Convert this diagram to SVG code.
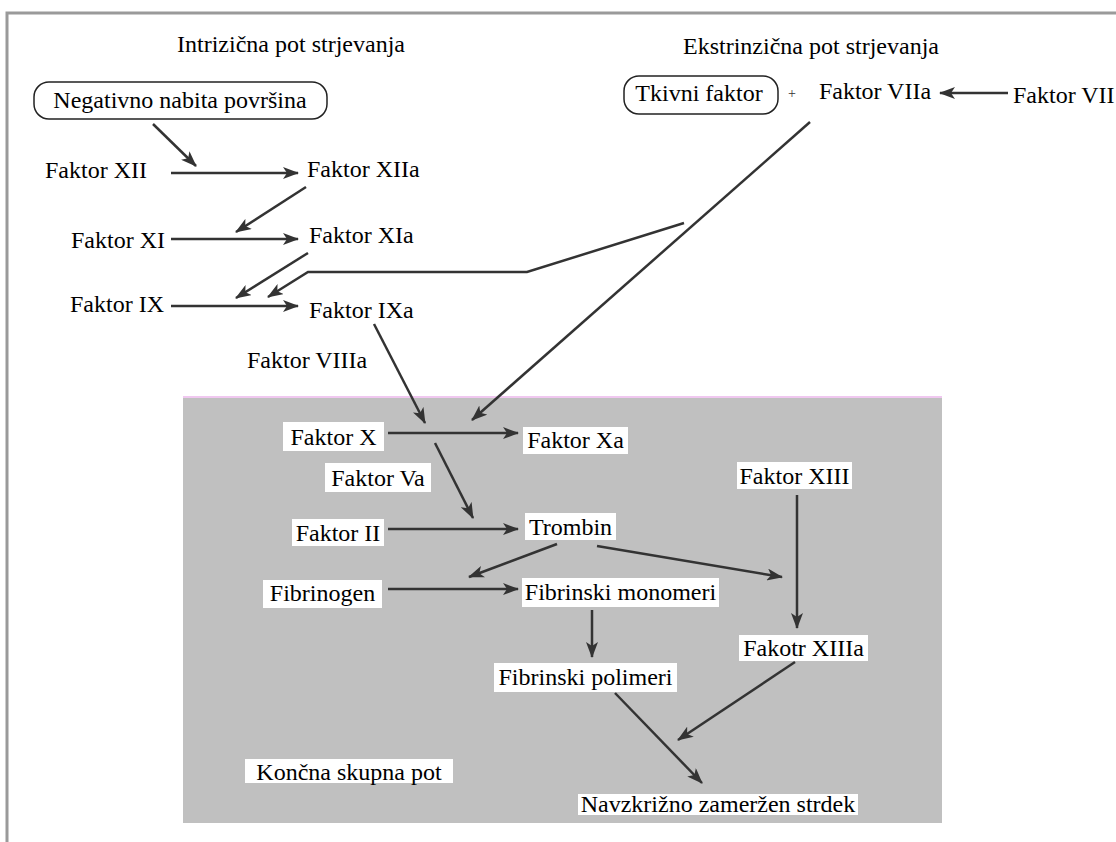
<svg xmlns="http://www.w3.org/2000/svg" width="1116" height="842" viewBox="0 0 1116 842" font-family="Liberation Serif, Times New Roman, Tinos, Noto Serif, DejaVu Serif, serif">
<style>
text{font-size:24px;fill:#000}
.c{text-anchor:middle}
.lb{fill:#fff}
.rb{fill:#fff;stroke:#222;stroke-width:1.5}
.ar{fill:none;stroke:#333;stroke-width:2.5;marker-end:url(#ah)}
</style>
<defs>
<marker id="ah" markerUnits="userSpaceOnUse" markerWidth="18" markerHeight="12" refX="15" refY="6" orient="auto">
<path d="M0,0 L16,6 L0,12 L4,6 z" fill="#333"/>
</marker>
</defs>
<rect x="0" y="0" width="1116" height="842" fill="#fff"/>
<path d="M7,842 L7,13 L1116,13" fill="none" stroke="#9a9a9a" stroke-width="3"/>
<g id="common-area">
<rect x="183" y="397" width="759" height="426" fill="#c0c0c0"/>
<line x1="183" y1="397" x2="942" y2="397" stroke="#f0c8f0" stroke-width="2"/>
</g>
<g id="title-intrinsic"><text class="c" x="291" y="52">Intrizična pot strjevanja</text></g>
<g id="title-extrinsic"><text class="c" x="811" y="54">Ekstrinzična pot strjevanja</text></g>
<g id="n-negativno"><rect class="rb" x="34" y="82" width="293" height="37" rx="15"/><text class="c" x="180" y="108">Negativno nabita površina</text></g>
<g id="n-tkivni"><rect class="rb" x="624" y="76" width="154" height="38" rx="15"/><text class="c" x="699" y="101">Tkivni faktor</text></g>
<g id="n-plus"><text class="c" x="792" y="98" font-size="14" style="font-size:14px;fill:#333">+</text></g>
<g id="n-VIIa"><text class="c" x="875" y="99">Faktor VIIa</text></g>
<g id="n-VII"><text x="1013" y="103">Faktor VII</text></g>
<g id="n-XII"><text x="45" y="178">Faktor XII</text></g>
<g id="n-XIIa"><text x="307" y="177">Faktor XIIa</text></g>
<g id="n-XI"><text x="71" y="248">Faktor XI</text></g>
<g id="n-XIa"><text x="309" y="243">Faktor XIa</text></g>
<g id="n-IX"><text x="70" y="312">Faktor IX</text></g>
<g id="n-IXa"><text x="309" y="318">Faktor IXa</text></g>
<g id="n-VIIIa"><text x="247" y="368">Faktor VIIIa</text></g>
<g id="n-X"><rect class="lb" x="283" y="422" width="101" height="29"/><text class="c" x="333.5" y="445">Faktor X</text></g>
<g id="n-Xa"><rect class="lb" x="523" y="427" width="105" height="27"/><text class="c" x="575.5" y="448">Faktor Xa</text></g>
<g id="n-Va"><rect class="lb" x="325" y="463" width="106" height="29"/><text class="c" x="378" y="486">Faktor Va</text></g>
<g id="n-II"><rect class="lb" x="292" y="519" width="92" height="27"/><text class="c" x="338" y="541">Faktor II</text></g>
<g id="n-trombin"><rect class="lb" x="525" y="513" width="91" height="27"/><text class="c" x="570.5" y="535">Trombin</text></g>
<g id="n-fibrinogen"><rect class="lb" x="263" y="580" width="119" height="28"/><text class="c" x="322.5" y="601">Fibrinogen</text></g>
<g id="n-monomeri"><rect class="lb" x="522" y="578" width="197" height="29"/><text class="c" x="620.5" y="600">Fibrinski monomeri</text></g>
<g id="n-XIII"><rect class="lb" x="737" y="462" width="115" height="27"/><text class="c" x="794.5" y="484">Faktor XIII</text></g>
<g id="n-polimeri"><rect class="lb" x="494" y="663" width="183" height="29"/><text class="c" x="585.5" y="685">Fibrinski polimeri</text></g>
<g id="n-XIIIa"><rect class="lb" x="739" y="635" width="129" height="26"/><text class="c" x="803.5" y="656">Fakotr XIIIa</text></g>
<g id="n-koncna"><rect class="lb" x="245" y="759" width="208" height="24"/><text class="c" x="349" y="780">Končna skupna pot</text></g>
<g id="n-strdek"><rect class="lb" x="578" y="794" width="280" height="21"/><text class="c" x="718" y="812">Navzkrižno zameržen strdek</text></g>
<g id="connectors">
<line class="ar" x1="153" y1="124" x2="196" y2="166"/>
<line class="ar" x1="171" y1="173" x2="298" y2="173"/>
<line class="ar" x1="306" y1="187" x2="236" y2="232"/>
<line class="ar" x1="171" y1="239" x2="298" y2="239"/>
<line class="ar" x1="308" y1="253" x2="236" y2="298"/>
<polyline class="ar" points="684,223 527,272 308,272 268,297"/>
<line class="ar" x1="171" y1="306" x2="298" y2="306"/>
<line class="ar" x1="374" y1="324" x2="425" y2="423"/>
<line class="ar" x1="810" y1="122" x2="472" y2="420"/>
<line class="ar" x1="1008" y1="93" x2="940" y2="93"/>
<line class="ar" x1="388" y1="433" x2="518" y2="433"/>
<line class="ar" x1="435" y1="443" x2="473" y2="518"/>
<line class="ar" x1="388" y1="529" x2="518" y2="529"/>
<line class="ar" x1="557" y1="544" x2="469" y2="577"/>
<line class="ar" x1="597" y1="546" x2="782" y2="577"/>
<line class="ar" x1="388" y1="589" x2="518" y2="589"/>
<line class="ar" x1="797" y1="495" x2="797" y2="628"/>
<line class="ar" x1="592" y1="610" x2="592" y2="657"/>
<line class="ar" x1="795" y1="662" x2="678" y2="740"/>
<line class="ar" x1="615" y1="693" x2="702" y2="783"/>
</g>
</svg>
